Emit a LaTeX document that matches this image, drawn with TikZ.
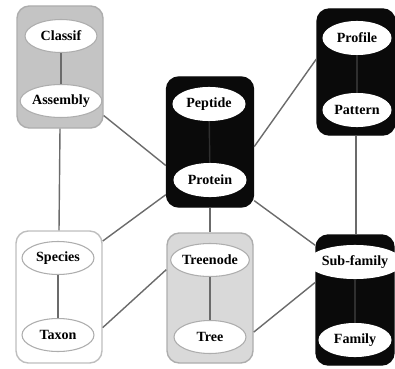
\documentclass[tikz,border=0pt]{standalone}
\usepackage{fontspec}
\setmainfont{Liberation Serif}
\usepackage{xcolor}
\usepackage{tikz}
\usetikzlibrary{shapes.geometric}

\begin{document}
\begin{tikzpicture}[x  = {(0.02cm,0cm)},
                    y  = {(0cm,-0.02cm)},
                    scale = 1,
                    font = {\bfseries\fontsize{8}{9}\selectfont}]


  % COLORS
  \definecolor{boxcolor_gray}{rgb}{ 0.77,0.77,0.77 }
  \definecolor{boxcolor_light}{rgb}{ 0.85,0.85,0.85 }
  \definecolor{boxcolor_dark}{rgb}{ 0.04,0.04,0.04 }
  \definecolor{rimcolor}{rgb}{ 0.68,0.68,0.68 }
  \definecolor{edgecolor}{rgb}{ 0.42,0.42,0.42 }


  % STYLES
  \tikzstyle{boxstyle} = [rectangle, rounded corners=7pt, minimum width=86*0.02cm, minimum height=126*0.02cm, draw=rimcolor, line width=0.8pt]
  \tikzstyle{ovalstyle} = [ellipse, fill=white, draw=rimcolor, line width=0.6pt, minimum width=72*0.02cm, minimum height=33*0.02cm, inner sep=0pt]
  \tikzstyle{linkstyle} = [draw=edgecolor, line width=0.8pt]
  \tikzstyle{innerstyle} = [draw=edgecolor, line width=0.8pt]
  \useasboundingbox (0,0) rectangle (395,368);


  % BOXES
  \node[boxstyle, fill=boxcolor_gray, minimum height=122*0.02cm] (box_classif) at (60, 67) {};
  \node[boxstyle, fill=boxcolor_dark, draw=boxcolor_dark, minimum height=130*0.02cm, minimum width=87*0.02cm] (box_protein) at (210, 142) {};
  \node[boxstyle, fill=boxcolor_dark, draw=boxcolor_dark, minimum width=78*0.02cm] (box_profile) at (356, 72) {};
  \node[boxstyle, fill=white, draw=rimcolor!80, minimum height=132*0.02cm] (box_species) at (59, 297) {};
  \node[boxstyle, fill=boxcolor_light, minimum height=130*0.02cm] (box_treenode) at (210, 298) {};
  \node[boxstyle, fill=boxcolor_dark, draw=boxcolor_dark, minimum width=78*0.02cm, minimum height=130*0.02cm] (box_family) at (355, 300) {};


  % LINKS BETWEEN BOXES
  \draw[linkstyle] (box_classif.-48) -- (box_protein.208);
  \draw[linkstyle] (box_classif.south) -- (box_species.north);
  \draw[linkstyle] (box_protein.-6) -- (box_profile.162);
  \draw[linkstyle] (box_protein.230) -- (box_species.52);
  \draw[linkstyle] (box_protein.-53) -- (box_family.126);
  \draw[linkstyle] (box_protein.south) -- (box_treenode.north);
  \draw[linkstyle] (box_profile.south) -- (box_family.north -| box_profile.south);
  \draw[linkstyle] (box_treenode.147) -- (box_species.-35);
  \draw[linkstyle] (box_treenode.-38) -- (box_family.156);


  % OVALS
  \node[ovalstyle] (classif) at (61, 36) {Classif};
  \node[ovalstyle] (assembly) at (61, 101) {Assembly};
  \node[ovalstyle, draw=white] (peptide) at (209, 104) {Peptide};
  \node[ovalstyle, draw=white] (protein) at (210, 180) {Protein};
  \node[ovalstyle, draw=white, minimum width=68*0.02cm] (profile) at (357, 38) {Profile};
  \node[ovalstyle, draw=white, minimum width=68*0.02cm] (pattern) at (357, 110) {Pattern};
  \node[ovalstyle] (species) at (58, 258) {Species};
  \node[ovalstyle] (taxon) at (58, 335) {Taxon};
  \node[ovalstyle] (treenode) at (210, 260) {Treenode};
  \node[ovalstyle] (tree) at (210, 337) {Tree};
  \node[ovalstyle, draw=white] (subfamily) at (355, 262) {Sub-family};
  \node[ovalstyle, draw=white] (family) at (355, 340) {Family};


  % LINKS INSIDE BOXES
  \draw[innerstyle] (classif) -- (assembly);
  \draw[innerstyle, draw=boxcolor_dark!85!white] (peptide) -- (protein);
  \draw[innerstyle, draw=boxcolor_dark!85!white] (profile) -- (pattern);
  \draw[innerstyle] (species) -- (taxon);
  \draw[innerstyle] (treenode) -- (tree);
  \draw[innerstyle, draw=boxcolor_dark!85!white] (subfamily) -- (family);

\end{tikzpicture}
\end{document}
